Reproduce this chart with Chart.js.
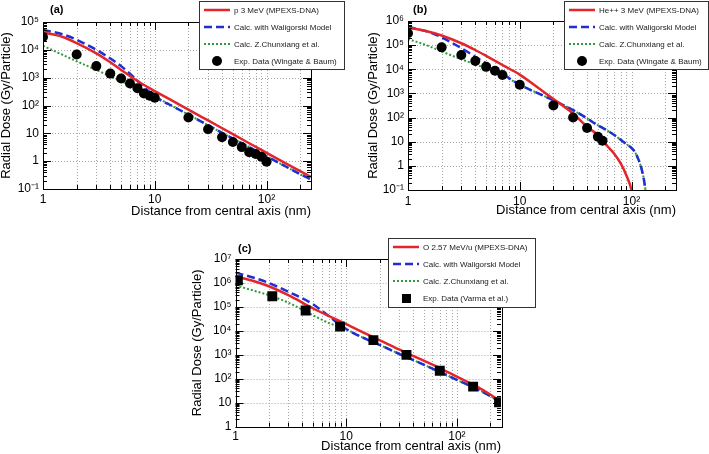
<!DOCTYPE html>
<html>
<head>
<meta charset="utf-8">
<script src="https://cdn.jsdelivr.net/npm/chart.js@4.4.1/dist/chart.umd.min.js"></script>
<style>
  html, body { margin: 0; padding: 0; background: #fff; }
  #wrap { position: relative; width: 709px; height: 454px; overflow: hidden; }
  .panel { position: absolute; }
  #boxA { left: 0; top: 0; width: 355px; height: 225px; }
  #boxB { left: 355px; top: 0; width: 354px; height: 225px; }
  #boxC { left: 170px; top: 225px; width: 370px; height: 229px; }
</style>
</head>
<body>
<div id="wrap">
  <div class="panel" id="boxA"><canvas id="chartA"></canvas></div>
  <div class="panel" id="boxB"><canvas id="chartB"></canvas></div>
  <div class="panel" id="boxC"><canvas id="chartC"></canvas></div>
</div>
<script>
// ---- data ----
const X_MAJOR = [1, 10, 100];
const X_MAJOR_LABELS = ['1', '10', '10²'];

// (a) proton 3 MeV
const Y_MAJOR_A = [0.1, 1, 10, 100, 1e3, 1e4, 1e5];
const Y_LABELS_A = ['10⁻¹', '1', '10', '10²', '10³', '10⁴', '10⁵'];
const LEGEND_A = ['p 3 MeV (MPEXS-DNA)', 'Calc. with Waligorski Model', 'Calc. Z.Chunxiang et al.', 'Exp. Data (Wingate & Baum)'];
const DIST_A_CALC = [1, 1.5, 2, 3, 4, 5, 7, 10, 15, 20, 30, 50, 70, 100, 150, 200, 250];
const DOSE_A_MPEXS = [4.2e4, 2.9e4, 1.75e4, 7.5e3, 3.6e3, 1.9e3, 760, 330, 135, 71, 29, 9.4, 4.4, 2.0, 0.82, 0.44, 0.27];
const DOSE_A_WALIG = [5.2e4, 3.6e4, 2.3e4, 1.0e4, 4.9e3, 2.6e3, 780, 210, 87, 47, 19.5, 6.5, 3.2, 1.5, 0.63, 0.34, 0.22];
const DOSE_A_ZHANG = [1.4e4, 6.6e3, 3.9e3, 1.9e3, 1.12e3, 750, 410, 210, 87, 47, 19.5, 6.5, 3.2, 1.5, 0.63, 0.34, 0.22];
const DIST_A_EXP = [1, 2, 3, 4, 5, 6, 7, 8, 9, 10, 20, 30, 40, 50, 60, 70, 80, 90, 100];
const DOSE_A_EXP = [2.9e4, 6.8e3, 2.6e3, 1.4e3, 940, 620, 420, 270, 225, 190, 37, 14, 7.2, 4.9, 3.2, 2.1, 1.8, 1.45, 0.95];

// (b) He++ 3 MeV
const Y_MAJOR_B = [0.1, 1, 10, 100, 1e3, 1e4, 1e5, 1e6];
const Y_LABELS_B = ['10⁻¹', '1', '10', '10²', '10³', '10⁴', '10⁵', '10⁶'];
const LEGEND_B = ['He++ 3 MeV (MPEXS-DNA)', 'Calc. with Waligorski Model', 'Calc. Z.Chunxiang et al.', 'Exp. Data (Wingate & Baum)'];
const DIST_B_MPEXS = [1, 1.5, 2, 3, 4, 5, 7, 10, 15, 20, 30, 40, 50, 60, 70, 80, 90, 100, 105];
const DOSE_B_MPEXS = [5.3e5, 3.7e5, 2.5e5, 1.2e5, 6.3e4, 3.6e4, 1.5e4, 6.0e3, 1.55e3, 590, 148, 41, 19, 7, 3.2, 1.26, 0.4, 0.1, 0.03];
const DIST_B_CALC = [1, 1.5, 2, 3, 4, 5, 7, 10, 15, 20, 30, 40, 50, 60, 70, 80, 90, 100, 105, 110, 115, 120, 125, 130, 134];
const DOSE_B_WALIG = [5.6e5, 3.6e5, 2.1e5, 7.5e4, 3.3e4, 1.75e4, 6.5e3, 2.3e3, 950, 520, 204, 92, 48, 30, 19, 12, 8, 5.5, 4.3, 3.0, 1.9, 1.1, 0.55, 0.22, 0.08];
const DOSE_B_ZHANG = [1.8e5, 9.5e4, 5.5e4, 2.6e4, 1.6e4, 1.1e4, 5.6e3, 2.3e3, 950, 520, 204, 92, 48, 30, 19, 12, 8, 5.5, 4.3, 3.0, 1.9, 1.1, 0.55, 0.22, 0.08];
const DIST_B_EXP = [1, 2, 3, 4, 5, 6, 7, 10, 20, 30, 40, 50, 55];
const DOSE_B_EXP = [3.1e5, 8.1e4, 3.9e4, 2.2e4, 1.26e4, 8.7e3, 5.8e3, 2.3e3, 320, 100, 37, 16, 11];

// (c) O 2.57 MeV/u
const Y_MAJOR_C = [1, 10, 100, 1e3, 1e4, 1e5, 1e6, 1e7];
const Y_LABELS_C = ['1', '10', '10²', '10³', '10⁴', '10⁵', '10⁶', '10⁷'];
const LEGEND_C = ['O 2.57 MeV/u (MPEXS-DNA)', 'Calc. with Waligorski Model', 'Calc. Z.Chunxiang et al.', 'Exp. Data (Varma et al.)'];
const DIST_C_CALC = [1, 1.5, 2, 3, 5, 7, 10, 15, 20, 30, 50, 70, 100, 150, 200, 250];
const DOSE_C_MPEXS = [1.9e6, 1.15e6, 7.3e5, 3.1e5, 8.8e4, 4.1e4, 1.9e4, 7.6e3, 4.1e3, 1.68e3, 575, 280, 122, 48, 22, 11];
const DOSE_C_WALIG = [2.7e6, 1.6e6, 1.0e6, 4.3e5, 1.3e5, 4.0e4, 1.2e4, 4.6e3, 2.6e3, 1.1e3, 390, 195, 90, 38, 19, 10.5];
const DOSE_C_ZHANG = [8e5, 4.6e5, 3.1e5, 1.5e5, 4.5e4, 2.1e4, 1.15e4, 4.6e3, 2.6e3, 1.1e3, 390, 195, 90, 38, 19, 10.5];
const DIST_C_EXP = [1.05, 2.15, 4.3, 8.8, 17.6, 35, 70, 140, 240];
const DOSE_C_EXP = [1.3e6, 2.8e5, 7.1e4, 1.5e4, 4.1e3, 1.0e3, 215, 47, 10.5];

const RED = '#e3262b';
const BLUE = '#1f2fd2';
const GREEN = '#2f9a3c';
const FONT = "'Liberation Sans', Arial, Helvetica, sans-serif";

function pts(xs, ys) {
    return xs.map((x, i) => ({ x: x, y: ys[i] }));
}

function isDecade(v) {
    const e = Math.round(Math.log10(v));
    return Math.abs(v - Math.pow(10, e)) < v * 1e-6;
}

// decade + 2..9 minor ticks inside [min, max]
function logTicks(min, max) {
    const out = [];
    for (let e = Math.floor(Math.log10(min)); e <= Math.ceil(Math.log10(max)); e++) {
        for (let m = 1; m <= 9; m++) {
            const v = m * Math.pow(10, e);
            if (v >= min * 0.9999 && v <= max * 1.0001) out.push(v);
        }
    }
    return out;
}

function labelFor(majors, labels) {
    return (value) => {
        const i = majors.findIndex(m => Math.abs(m - value) < m * 1e-6);
        return i >= 0 ? labels[i] : '';
    };
}

// ROOT-like frame: dotted grid, inward ticks, legend box, panel tag
const rootStyle = {
    id: 'rootStyle',
    beforeDatasetsDraw(chart) {
        const { ctx, chartArea: a, scales: { x, y } } = chart;
        ctx.save();
        ctx.strokeStyle = '#a5a5a5';
        ctx.lineWidth = 1;
        ctx.setLineDash([1, 2]);
        ctx.beginPath();
        x.ticks.forEach(t => {
            const px = Math.round(x.getPixelForValue(t.value)) + 0.5;
            ctx.moveTo(px, a.top);
            ctx.lineTo(px, a.bottom);
        });
        y.ticks.forEach(t => {
            if (!isDecade(t.value)) return;
            const py = Math.round(y.getPixelForValue(t.value)) + 0.5;
            ctx.moveTo(a.left, py);
            ctx.lineTo(a.right, py);
        });
        ctx.stroke();
        ctx.restore();
    },
    afterDatasetsDraw(chart) {
        const { ctx, chartArea: a, scales: { x, y } } = chart;
        ctx.save();
        ctx.strokeStyle = '#000';
        ctx.lineWidth = 1;
        ctx.setLineDash([]);
        ctx.beginPath();
        x.ticks.forEach(t => {
            const px = Math.round(x.getPixelForValue(t.value)) + 0.5;
            const len = isDecade(t.value) ? 8 : 4;
            ctx.moveTo(px, a.bottom); ctx.lineTo(px, a.bottom - len);
            ctx.moveTo(px, a.top); ctx.lineTo(px, a.top + len);
        });
        y.ticks.forEach(t => {
            const py = Math.round(y.getPixelForValue(t.value)) + 0.5;
            const len = isDecade(t.value) ? 8 : 4;
            ctx.moveTo(a.left, py); ctx.lineTo(a.left + len, py);
            ctx.moveTo(a.right, py); ctx.lineTo(a.right - len, py);
        });
        ctx.stroke();
        ctx.strokeRect(Math.round(a.left) + 0.5, Math.round(a.top) + 0.5,
            Math.round(a.right - a.left), Math.round(a.bottom - a.top));
        ctx.restore();
    },
    afterDraw(chart, args, opts) {
        const ctx = chart.ctx;
        const b = opts.box;
        ctx.save();
        ctx.fillStyle = '#fff';
        ctx.fillRect(b.x, b.y, b.w, b.h);
        ctx.strokeStyle = '#333';
        ctx.lineWidth = 1;
        ctx.strokeRect(b.x + 0.5, b.y + 0.5, b.w, b.h);

        chart.data.datasets.forEach((ds, i) => {
            const cy = b.y + 9 + 17 * i;
            if (ds.showLine) {
                ctx.strokeStyle = ds.borderColor;
                ctx.lineWidth = ds.borderWidth;
                ctx.setLineDash(ds.borderDash || []);
                ctx.beginPath();
                ctx.moveTo(b.x + 5, cy);
                ctx.lineTo(b.x + 31, cy);
                ctx.stroke();
                ctx.setLineDash([]);
            } else {
                ctx.fillStyle = '#000';
                if (ds.pointStyle === 'rect') {
                    ctx.fillRect(b.x + 14, cy - 4, 9, 9);
                } else {
                    ctx.beginPath();
                    ctx.arc(b.x + 18, cy, 5, 0, Math.PI * 2);
                    ctx.fill();
                }
            }
            ctx.fillStyle = '#1a1a1a';
            ctx.font = '8px ' + FONT;
            ctx.textBaseline = 'middle';
            ctx.textAlign = 'left';
            ctx.fillText(ds.label, b.x + 35, cy + 0.5);
        });

        ctx.fillStyle = '#000';
        ctx.font = 'bold 11px ' + FONT;
        ctx.textBaseline = 'middle';
        ctx.fillText(opts.tag, opts.tagX, opts.tagY);
        ctx.restore();
    }
};

function lineSet(label, xs, ys, color, width, dash, order) {
    return {
        label: label,
        data: pts(xs, ys),
        showLine: true,
        borderColor: color,
        backgroundColor: color,
        borderWidth: width,
        borderDash: dash,
        pointRadius: 0,
        fill: false,
        cubicInterpolationMode: 'monotone',
        order: order
    };
}

function expSet(label, xs, ys, style, radius) {
    return {
        label: label,
        data: pts(xs, ys),
        showLine: false,
        pointStyle: style,
        pointRadius: radius,
        pointBackgroundColor: '#000',
        pointBorderColor: '#000',
        pointBorderWidth: 0,
        order: 0
    };
}

function makeChart(id, datasets, p) {
    const xTicks = logTicks(1, 250);
    const yTicks = logTicks(p.yMin, p.yMax);
    return new Chart(document.getElementById(id).getContext('2d'), {
        type: 'scatter',
        data: { datasets: datasets },
        plugins: [rootStyle],
        options: {
            responsive: true,
            maintainAspectRatio: false,
            animation: false,
            events: [],
            layout: { padding: p.pad },
            plugins: {
                legend: { display: false },
                tooltip: { enabled: false },
                rootStyle: { box: p.box, tag: p.tag, tagX: p.tagX, tagY: p.tagY }
            },
            scales: {
                x: {
                    type: 'logarithmic',
                    min: 1,
                    max: 250,
                    afterBuildTicks: (s) => { s.ticks = xTicks.map(v => ({ value: v })); },
                    afterFit: (s) => { s.height = p.xHeight; },
                    grid: { display: false, drawTicks: false },
                    border: { display: false },
                    ticks: {
                        autoSkip: false,
                        maxRotation: 0,
                        padding: p.xPad,
                        color: '#000',
                        font: { family: FONT, size: 12, lineHeight: 1 },
                        callback: labelFor(X_MAJOR, X_MAJOR_LABELS)
                    },
                    title: {
                        display: true,
                        text: 'Distance from central axis (nm)',
                        align: 'end',
                        color: '#000',
                        padding: { top: 0, bottom: 0 },
                        font: { family: FONT, size: 13, lineHeight: 1 }
                    }
                },
                y: {
                    type: 'logarithmic',
                    min: p.yMin,
                    max: p.yMax,
                    afterBuildTicks: (s) => { s.ticks = yTicks.map(v => ({ value: v })); },
                    afterFit: (s) => { s.width = p.yWidth; },
                    grid: { display: false, drawTicks: false },
                    border: { display: false },
                    ticks: {
                        autoSkip: false,
                        padding: 4,
                        color: '#000',
                        font: { family: FONT, size: 12, lineHeight: 1 },
                        callback: labelFor(p.yMajor, p.yLabels)
                    },
                    title: {
                        display: true,
                        text: 'Radial Dose (Gy/Particle)',
                        color: '#000',
                        padding: { top: p.yTitlePad, bottom: 0 },
                        font: { family: FONT, size: 13, lineHeight: 1 }
                    }
                }
            }
        }
    });
}

makeChart('chartA', [
    lineSet(LEGEND_A[0], DIST_A_CALC, DOSE_A_MPEXS, RED, 2.5, [], 1),
    lineSet(LEGEND_A[1], DIST_A_CALC, DOSE_A_WALIG, BLUE, 2.5, [8, 4], 2),
    lineSet(LEGEND_A[2], DIST_A_CALC, DOSE_A_ZHANG, GREEN, 2, [2, 2], 3),
    expSet(LEGEND_A[3], DIST_A_EXP, DOSE_A_EXP, 'circle', 5)
], {
    yMin: 0.1, yMax: 1e5, yMajor: Y_MAJOR_A, yLabels: Y_LABELS_A,
    pad: { left: 0, top: 22, right: 44, bottom: 7.5 },
    yWidth: 43, xHeight: 28.5, xPad: 5, yTitlePad: 0,
    box: { x: 199, y: 1, w: 145, h: 68 }, tag: '(a)', tagX: 50, tagY: 10
});

makeChart('chartB', [
    lineSet(LEGEND_B[0], DIST_B_MPEXS, DOSE_B_MPEXS, RED, 2.5, [], 1),
    lineSet(LEGEND_B[1], DIST_B_CALC, DOSE_B_WALIG, BLUE, 2.5, [8, 4], 2),
    lineSet(LEGEND_B[2], DIST_B_CALC, DOSE_B_ZHANG, GREEN, 2, [2, 2], 3),
    expSet(LEGEND_B[3], DIST_B_EXP, DOSE_B_EXP, 'circle', 5)
], {
    yMin: 0.1, yMax: 1e6, yMajor: Y_MAJOR_B, yLabels: Y_LABELS_B,
    pad: { left: 0, top: 21, right: 33, bottom: 8.5 },
    yWidth: 53, xHeight: 26.5, xPad: 6, yTitlePad: 11.5,
    box: { x: 209, y: 1, w: 144, h: 68 }, tag: '(b)', tagX: 58, tagY: 10
});

makeChart('chartC', [
    lineSet(LEGEND_C[0], DIST_C_CALC, DOSE_C_MPEXS, RED, 2.5, [], 1),
    lineSet(LEGEND_C[1], DIST_C_CALC, DOSE_C_WALIG, BLUE, 2.5, [8, 4], 2),
    lineSet(LEGEND_C[2], DIST_C_CALC, DOSE_C_ZHANG, GREEN, 2, [2, 2], 3),
    expSet(LEGEND_C[3], DIST_C_EXP, DOSE_C_EXP, 'rect', 7)
], {
    yMin: 1, yMax: 1e7, yMajor: Y_MAJOR_C, yLabels: Y_LABELS_C,
    pad: { left: 0, top: 34, right: 39, bottom: 1.5 },
    yWidth: 65.5, xHeight: 25.8, xPad: 4, yTitlePad: 20.5,
    box: { x: 218, y: 13, w: 147, h: 69 }, tag: '(c)', tagX: 68, tagY: 24
});
</script>
</body>
</html>
